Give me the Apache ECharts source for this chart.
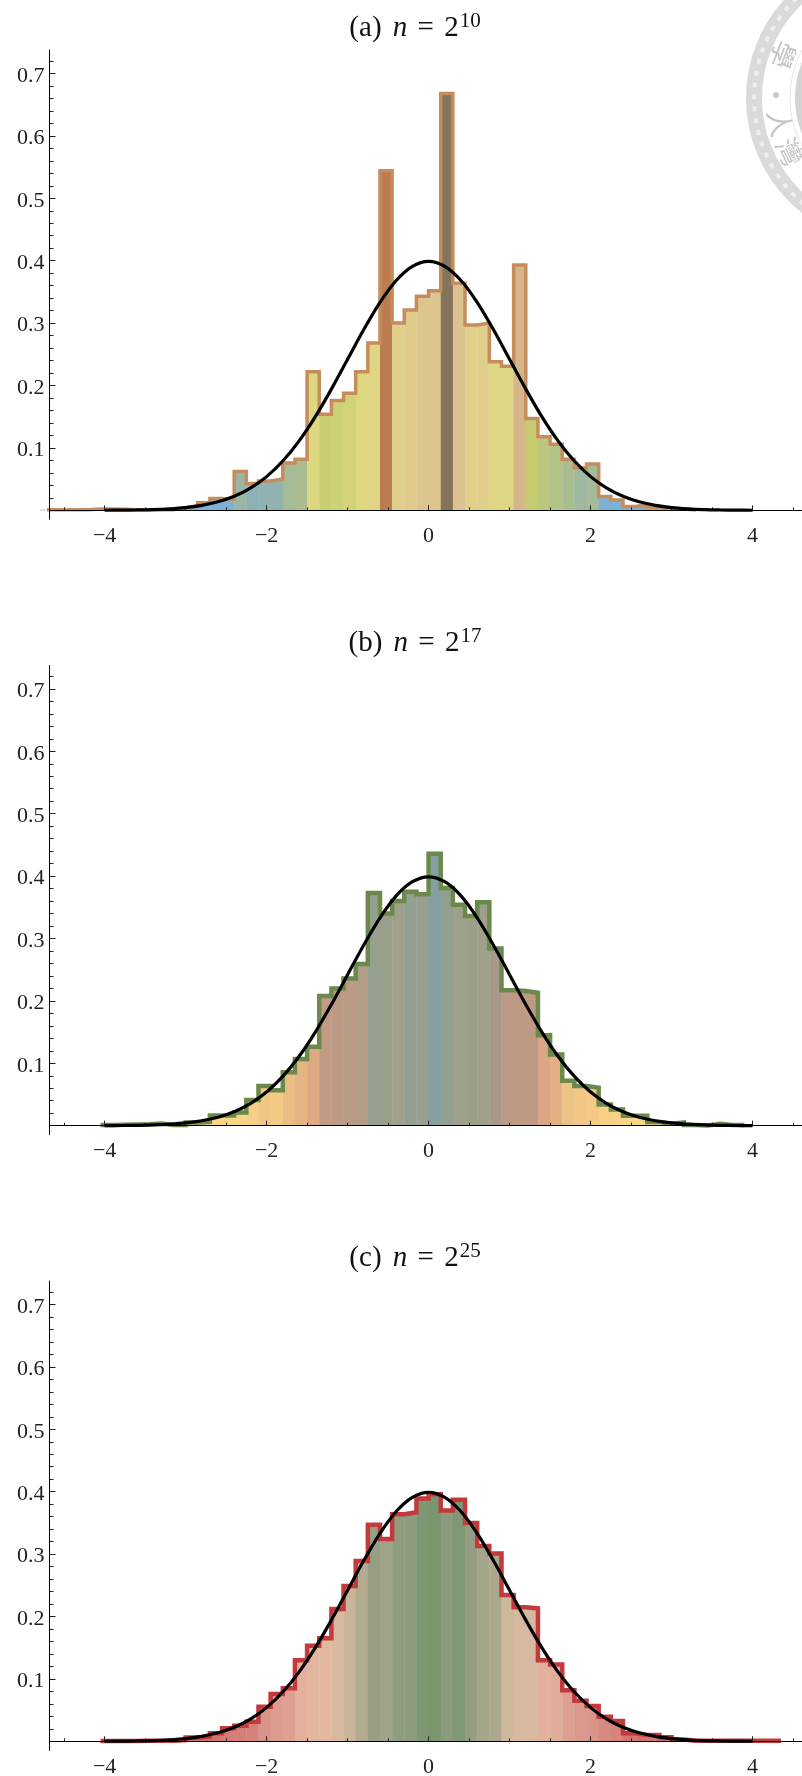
<!DOCTYPE html>
<html>
<head>
<meta charset="utf-8">
<style>html,body{margin:0;padding:0;background:#fff}#c{width:802px;height:1776px}</style>
<script src="https://cdn.jsdelivr.net/npm/echarts@6/dist/echarts.min.js"></script>
</head>
<body>
<div id="c"></div>
<script>
// ---- data ----
const binWidth = 0.15;
const firstEdgeA = -4.8;
const valuesA = [.001,.001,.001,.001,.002,.002,.0015,.001,.001,.001,.001,.004,.007,.012,.019,.0176,.062,.043,.047,.05,.076,.082,.222,.154,.176,.1875,.222,.268,.544,.30,.321,.343,.352,.668,.364,.297,.30,.238,.231,.393,.147,.118,.106,.082,.068,.074,.022,.0165,.006,.0085,.005,.003,.002,.0005];
const firstEdgeB = -4.05;
const valuesB = [.001,.0015,.002,.0025,.0035,.001,.001,.005,.006,.0165,.0165,.021,.041,.0636,.057,.0855,.107,.1266,.208,.22,.236,.259,.373,.34,.36,.375,.371,.436,.381,.354,.336,.358,.284,.217,.216,.213,.145,.114,.072,.0636,.061,.034,.026,.016,.016,.006,.003,.005,.001,.0005,.003,.001,.001];
const firstEdgeC = -4.05;
const valuesC = [.0005,.0005,.0005,.001,.001,.001,.002,.006,.0075,.013,.021,.025,.0315,.0555,.076,.085,.13,.153,.165,.212,.249,.289,.347,.324,.364,.367,.389,.396,.37,.387,.35,.313,.301,.2345,.215,.213,.13,.123,.082,.065,.0566,.0395,.0326,.013,.01,.01,.0064,.003,.001,.001,.001,.001,.001,.001,.001,.001];
const curveX = [-4,-3.8,-3.6,-3.4,-3.2,-3,-2.8,-2.6,-2.4,-2.2,-2,-1.8,-1.6,-1.4,-1.2,-1,-.8,-.6,-.4,-.2,0,.2,.4,.6,.8,1,1.2,1.4,1.6,1.8,2,2.2,2.4,2.6,2.8,3,3.2,3.4,3.6,3.8,4];
const curveY = [.0001,.0003,.0006,.0012,.0024,.0044,.0079,.0136,.0224,.0355,.054,.079,.1109,.1497,.1942,.242,.2897,.3332,.3683,.391,.3989,.391,.3683,.3332,.2897,.242,.1942,.1497,.1109,.079,.054,.0355,.0224,.0136,.0079,.0044,.0024,.0012,.0006,.0003,.0001];
const xMajorTicks = [-4,-2,0,2,4];
const xMinorTicks = [-4.5,-3.5,-3,-2.5,-1.5,-1,-.5,.5,1,1.5,2.5,3,3.5,4.5];
const yMajorTicks = [.1,.2,.3,.4,.5,.6,.7];
const yMinorTicks = [.02,.04,.06,.08,.12,.14,.16,.18,.22,.24,.26,.28,.32,.34,.36,.38,.42,.44,.46,.48,.52,.54,.56,.58,.62,.64,.66,.68,.72];
const panelLabels = ['(a) ','(b) ','(c) '];
const panelExponents = ['10','17','25'];

// ---- styles: height-to-colour stops per panel ----
const stopsA = [[0,'#7fb0d6'],[.02,'#7fb0d6'],[.045,'#8db2b4'],[.06,'#98b6a8'],[.08,'#a8bd92'],[.106,'#b3c285'],[.118,'#bcc67c'],[.15,'#c7cc6e'],[.176,'#ccd076'],[.19,'#d3d27a'],[.222,'#ddd780'],[.24,'#dfd583'],[.27,'#e0d485'],[.30,'#e0cf8a'],[.32,'#e0ca8b'],[.35,'#dcc58f'],[.364,'#dcc290'],[.393,'#d5b58a'],[.544,'#bb7d50'],[.668,'#84745c']];
const stopsB = [[0,'#f8dc85'],[.02,'#f7d585'],[.06,'#f3c985'],[.085,'#eabd82'],[.107,'#e5b483'],[.127,'#dfa984'],[.145,'#dba685'],[.21,'#bf9a85'],[.26,'#b39c85'],[.284,'#a89a8a'],[.34,'#9a9f8b'],[.36,'#a0a08c'],[.375,'#93a090'],[.436,'#84a0a2']];
const stopsC = [[0,'#cf6c68'],[.03,'#d4827a'],[.055,'#d9948a'],[.08,'#dc9e90'],[.13,'#e2b09d'],[.165,'#e2b8a0'],[.215,'#d6b9a0'],[.25,'#c8b59a'],[.29,'#b2ab90'],[.31,'#a5a68c'],[.35,'#959e82'],[.37,'#8b9b7d'],[.39,'#7c9674'],[.396,'#79966f']];

const serif = '"Liberation Serif","DejaVu Serif",serif';
const hex = c => [1,3,5].map(i => parseInt(c.substr(i,2),16));
function colorFor(stops, v){
  if (v <= stops[0][0]) return stops[0][1];
  for (let i = 1; i < stops.length; i++){
    if (v <= stops[i][0]){
      const t = (v - stops[i-1][0]) / (stops[i][0] - stops[i-1][0]);
      const a = hex(stops[i-1][1]), b = hex(stops[i][1]);
      return 'rgb(' + a.map((x,j) => Math.round(x + (b[j]-x)*t)).join(',') + ')';
    }
  }
  return stops[stops.length-1][1];
}

const panels = [
  {first:firstEdgeA, vals:valuesA, stops:stopsA, line:'#c68c5c', lw:3.5, zero:510.3, titleTop:3},
  {first:firstEdgeB, vals:valuesB, stops:stopsB, line:'#6a8a4c', lw:4.5, zero:1125.7, titleTop:618},
  {first:firstEdgeC, vals:valuesC, stops:stopsC, line:'#c23a3c', lw:4.5, zero:1741.3, titleTop:1233}
];
const yMin = -0.0144, yMax = 0.7376, yScale = 624;
const option = {animation:false, backgroundColor:'#fff', grid:[], xAxis:[], yAxis:[], series:[], title:[],
  graphic:[
    {type:'circle',silent:true,z:-1,shape:{cx:892,cy:98,r:138},style:{fill:'none',stroke:'#dadada',lineWidth:16}},
    {type:'circle',silent:true,z:-1,shape:{cx:892,cy:98,r:138},style:{fill:'none',stroke:'#eeeeee',lineWidth:4,lineDash:[5,7]}},
    {type:'circle',silent:true,z:-1,shape:{cx:892,cy:98,r:102},style:{fill:'none',stroke:'#e6e6e6',lineWidth:1}},
    {type:'circle',silent:true,z:-1,shape:{cx:892,cy:98,r:97},style:{fill:'#d4d4d4'}},
    {type:'circle',silent:true,z:-1,shape:{cx:776,cy:95,r:3},style:{fill:'#c8c8c8'}},
    {type:'text',silent:true,z:-1,x:783,y:55,rotation:-111*Math.PI/180,style:{text:'學',fill:'#c4c4c4',font:'27px "Noto Sans CJK TC"',align:'center',verticalAlign:'middle'}},
    {type:'text',silent:true,z:-1,x:780,y:123,rotation:-78*Math.PI/180,style:{text:'人',fill:'#c4c4c4',font:'27px "Noto Sans CJK TC"',align:'center',verticalAlign:'middle'}},
    {type:'text',silent:true,z:-1,x:790,y:152,rotation:-64*Math.PI/180,style:{text:'灣',fill:'#c4c4c4',font:'27px "Noto Sans CJK TC"',align:'center',verticalAlign:'middle'}}
  ]};

panels.forEach((p,k) => {
  const top = p.zero - yMax*yScale, bottom = p.zero - yMin*yScale;
  option.grid.push({left:49.5, width:752.5, top:top, height:bottom-top, outerBoundsMode:'none'});
  const xBase = {type:'value', gridIndex:k, min:-4.68, max:4.61, position:'bottom', splitLine:{show:false}, z:4};
  option.xAxis.push(Object.assign({}, xBase, {
    axisLine:{onZero:true, lineStyle:{color:'#000',width:1}},
    axisTick:{inside:true,length:5,lineStyle:{color:'#222',width:1},customValues:xMajorTicks},
    axisLabel:{margin:6,fontFamily:serif,fontSize:22,color:'#222',customValues:xMajorTicks,
      formatter:v => v<0 ? '\u2212'+Math.abs(v) : String(v)}
  }));
  option.xAxis.push(Object.assign({}, xBase, {
    axisLine:{show:false,onZero:true},
    axisTick:{inside:true,length:3,lineStyle:{color:'#222',width:1},customValues:xMinorTicks},
    axisLabel:{show:false}
  }));
  const yBase = {type:'value', gridIndex:k, min:yMin, max:yMax, position:'left', splitLine:{show:false}, z:4};
  option.yAxis.push(Object.assign({}, yBase, {
    axisLine:{onZero:false, show:true, lineStyle:{color:'#000',width:1}},
    axisTick:{inside:true,length:6,lineStyle:{color:'#222',width:1},customValues:yMajorTicks},
    axisLabel:{margin:5,fontFamily:serif,fontSize:22,color:'#222',verticalAlign:'top',lineHeight:5,customValues:yMajorTicks,
      formatter:v => v.toFixed(1)}
  }));
  option.yAxis.push(Object.assign({}, yBase, {
    axisLine:{show:false,onZero:false},
    axisTick:{inside:true,length:4,lineStyle:{color:'#222',width:1},customValues:yMinorTicks},
    axisLabel:{show:false}
  }));
  const xi = k*2, yi = k*2;
  const edge = i => +(p.first + i*binWidth).toFixed(4);
  option.series.push({type:'custom', xAxisIndex:xi, yAxisIndex:yi, z:2, silent:true,
    data:p.vals.map((v,i) => [edge(i), edge(i+1), v]),
    encode:{x:[0,1], y:2},
    clip:false,
    renderItem:(params, api) => {
      const a = api.coord([api.value(0), api.value(2)]);
      const b = api.coord([api.value(1), 0]);
      return {type:'rect', shape:{x:a[0], y:a[1], width:b[0]-a[0]+0.4, height:b[1]-a[1]},
        style:{fill:colorFor(p.stops, api.value(2))}};
    }});
  const outline = [];
  p.vals.forEach((v,i) => { outline.push([edge(i), v]); outline.push([edge(i+1), v]); });
  option.series.push({type:'line', xAxisIndex:xi, yAxisIndex:yi, z:3, silent:true, clip:false, showSymbol:false,
    data:outline, lineStyle:{color:p.line,width:p.lw,join:'miter',cap:'butt'}});
  option.series.push({type:'line', xAxisIndex:xi, yAxisIndex:yi, z:5, silent:true, clip:false, showSymbol:false, smooth:0.3,
    data:curveX.map((x,i) => [x, curveY[i]]), lineStyle:{color:'#000',width:3.2}});
  const base = {fontFamily:serif,fontSize:29,fontWeight:'normal',color:'#111',padding:[6,0,0,0]};
  option.title.push({left:410, top:p.titleTop, textAlign:'center',
    text:'{r|'+panelLabels[k]+'}{i|n}{r| = }{t|2}{s|'+panelExponents[k]+'}',
    textStyle:{fontWeight:'normal',rich:{
      r:base,
      t:Object.assign({}, base, {padding:[6,0,0,3]}),
      i:Object.assign({}, base, {fontStyle:'italic',padding:[6,3,0,4]}),
      s:{fontFamily:serif,fontSize:21,fontWeight:'normal',color:'#111',padding:[0,0,8,1]}
    }}});
});

const chart = echarts.init(document.getElementById('c'), null, {renderer:'canvas', width:802, height:1776});
chart.setOption(option);
</script>
</body>
</html>
